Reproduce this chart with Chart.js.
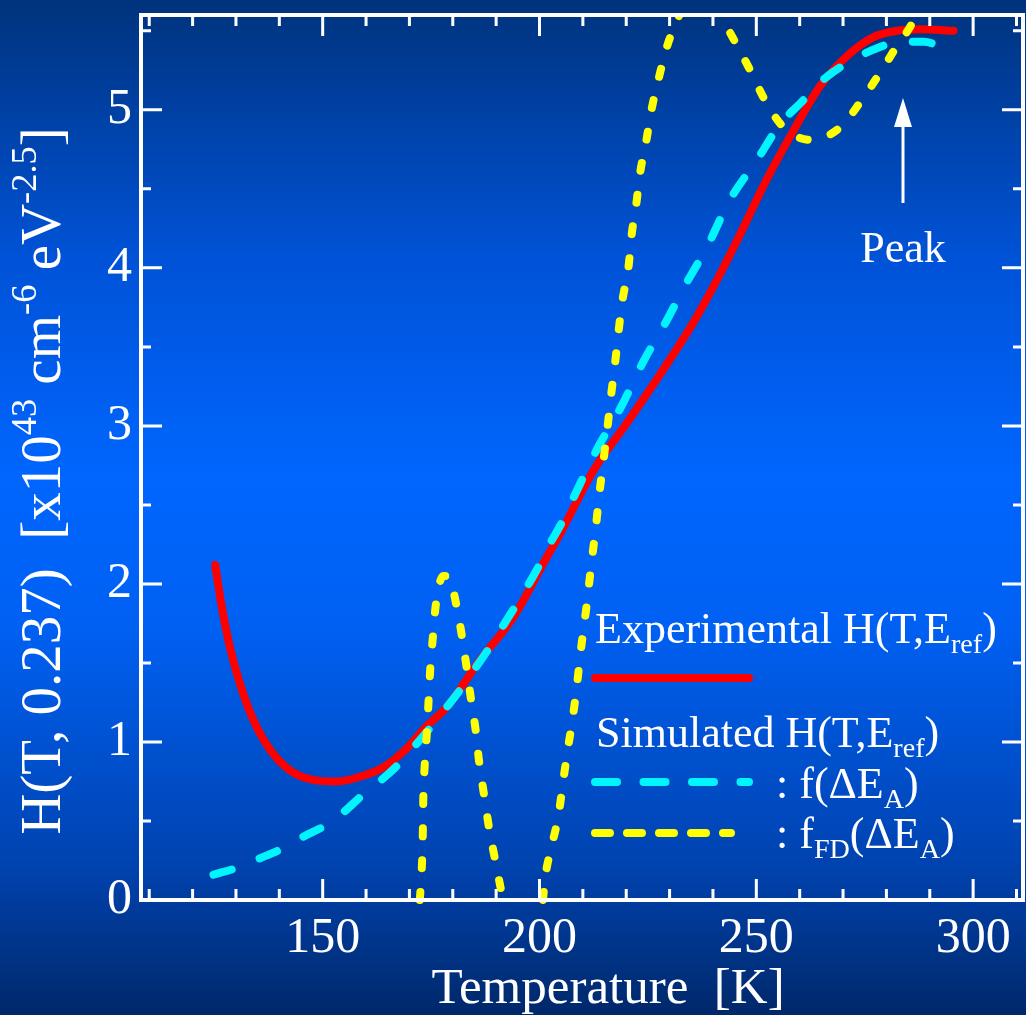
<!DOCTYPE html>
<html><head><meta charset="utf-8">
<script src="https://cdn.jsdelivr.net/npm/chart.js@4.4.0/dist/chart.umd.min.js"></script>
<style>html,body{margin:0;padding:0;background:#0050c8;}canvas{display:block;}</style>
</head><body>
<canvas id="c" width="1026" height="1015"></canvas>
<script>
// ---- data ----
const expT = [125.2,126.7,128.6,130.9,134.0,137.9,142.5,147.8,153.2,158.6,164.0,169.4,174.0,178.6,186.3,194.0,201.7,204.8,212.5,220.2,227.9,235.6,239.7,245.5,252.4,258.6,264.7,270.9,277.0,282.4,288.0,295.5];
const expH = [2.12,1.86,1.60,1.37,1.14,0.95,0.82,0.76,0.75,0.78,0.84,0.96,1.10,1.22,1.52,1.79,2.17,2.32,2.72,3.02,3.33,3.66,3.86,4.17,4.56,4.87,5.15,5.34,5.46,5.50,5.51,5.50];

const simT = [124.8,130.9,135.2,141.0,145.5,150.5,155.0,158.6,164.0,167.5,171.7,174.8,178.6,181.7,185.5,187.8,191.7,194.0,197.1,199.4,202.5,204.8,208.6,213.6,219.0,224.0,229.4,233.6,238.6,243.9,250.1,255.5,260.1,266.3,273.2,277.8,283.2,288.6,294.7];
const simH = [0.16,0.21,0.26,0.33,0.40,0.47,0.56,0.65,0.77,0.86,0.99,1.09,1.22,1.33,1.48,1.57,1.74,1.84,1.98,2.09,2.26,2.37,2.59,2.87,3.13,3.41,3.67,3.89,4.13,4.43,4.68,4.91,5.04,5.21,5.33,5.39,5.43,5.43,5.37];

const fdT = [172.4,172.9,173.1,173.2,173.5,174.0,174.4,174.8,175.4,176.1,177.8,179.0,180.8,182.1,183.2,184.2,185.3,186.1,187.3,188.4,189.8,191.3,191.6,196.0,200.8,201.3,202.8,204.4,205.4,206.5,207.6,208.6,209.4,210.8,212.1,213.0,213.8,214.7,215.6,216.4,217.4,218.2,219.1,220.5,221.3,222.3,223.2,224.6,225.9,227.5,229.4,232.1,235.0,238.0,241.7,245.1,248.6,252.0,256.3,262.5,269.4,274.0,278.2,282.1,286.3,288.0];
const fdH = [0,0.23,0.44,0.64,0.84,1.05,1.25,1.46,1.66,1.87,2.05,2.05,1.87,1.67,1.47,1.27,1.07,0.87,0.65,0.45,0.25,0.04,0,null,0,0.14,0.34,0.54,0.74,0.95,1.14,1.35,1.55,1.85,2.16,2.36,2.57,2.77,2.97,3.17,3.39,3.59,3.79,4.00,4.22,4.40,4.60,4.80,5.01,5.20,5.40,5.59,5.75,5.78,5.60,5.43,5.25,5.06,4.89,4.81,4.89,5.05,5.22,5.39,5.57,5.70];

const xTickValues = [150,200,250,300];
const yTickValues = [0,1,2,3,4,5];
const xMinorValues = [110,120,130,140,160,170,180,190,210,220,230,240,260,270,280,290,310];
const yMinorValues = [0.5,1.5,2.5,3.5,4.5,5.5];

const X_MIN = 108.1, X_MAX = 311.5, Y_MIN = 0, Y_MAX = 5.6;

const serif = '"Liberation Serif", "Times New Roman", serif';

function toXY(xs, ys){ return xs.map((x,i)=>({x:x, y:ys[i]})); }

function drawRich(ctx, parts, x, y, size, align){
  let w = 0;
  const items = parts.map(p=>{
    const s = p[1] ? size*0.64 : size;
    ctx.font = s + 'px ' + serif;
    const m = ctx.measureText(p[0]).width;
    w += m;
    return {t:p[0], mode:p[1], s:s, w:m};
  });
  let cx = align === 'center' ? x - w/2 : x;
  ctx.textAlign = 'left';
  ctx.textBaseline = 'alphabetic';
  items.forEach(it=>{
    ctx.font = it.s + 'px ' + serif;
    const dy = it.mode === 1 ? size*0.22 : (it.mode === 2 ? -size*0.42 : 0);
    ctx.fillText(it.t, cx, y + dy);
    cx += it.w;
  });
}

const decor = {
  id: 'decor',
  beforeDraw(chart){
    const ctx = chart.ctx;
    const g = ctx.createLinearGradient(0,0,0,chart.height);
    g.addColorStop(0, '#00337c');
    g.addColorStop(0.25, '#0052d6');
    g.addColorStop(0.47, '#0066ff');
    g.addColorStop(0.62, '#0060f2');
    g.addColorStop(0.85, '#0043b0');
    g.addColorStop(1, '#00286a');
    ctx.save();
    ctx.fillStyle = g;
    ctx.fillRect(0,0,chart.width,chart.height);
    ctx.restore();
  },
  afterDraw(chart){
    const ctx = chart.ctx;
    const a = chart.chartArea;
    const xs = chart.scales.x, ys = chart.scales.y;
    ctx.save();
    ctx.strokeStyle = '#fff';
    ctx.fillStyle = '#fff';
    ctx.lineWidth = 3;
    ctx.lineCap = 'butt';
    const tick = (v, len, axis) => {
      ctx.beginPath();
      if (axis === 'x') {
        const p = xs.getPixelForValue(v);
        ctx.moveTo(p, a.bottom); ctx.lineTo(p, a.bottom - len);
        ctx.moveTo(p, a.top); ctx.lineTo(p, a.top + len);
      } else {
        const p = ys.getPixelForValue(v);
        ctx.moveTo(a.left, p); ctx.lineTo(a.left + len, p);
        ctx.moveTo(a.right, p); ctx.lineTo(a.right - len, p);
      }
      ctx.stroke();
    };
    xTickValues.forEach(v=>tick(v, 21, 'x'));
    xMinorValues.forEach(v=>tick(v, 11, 'x'));
    yTickValues.forEach(v=>tick(v, 21, 'y'));
    yMinorValues.forEach(v=>tick(v, 10, 'y'));
    ctx.lineWidth = 4;
    ctx.strokeRect(a.left, a.top, a.right - a.left, a.bottom - a.top);

    // axis titles
    drawRich(ctx, [['Temperature  [K]',0]], 608, 1003, 51, 'center');
    ctx.save();
    ctx.translate(60, 481);
    ctx.rotate(-Math.PI/2);
    drawRich(ctx, [['H(T, 0.237)  [x10',0],['43',2],[' cm',0],['-6',2],[' eV',0],['-2.5',2],[']',0]], 0, 0, 57, 'center');
    ctx.restore();

    // legend
    drawRich(ctx, [['Experimental H(T,E',0],['ref',1],[')',0]], 595, 643, 44, 'left');
    drawRich(ctx, [['Simulated H(T,E',0],['ref',1],[')',0]], 596, 747, 44, 'left');
    drawRich(ctx, [[': f(\u0394E',0],['A',1],[')',0]], 776, 798, 44, 'left');
    drawRich(ctx, [[': f',0],['FD',1],['(\u0394E',0],['A',1],[')',0]], 776, 848, 44, 'left');
    ctx.lineCap = 'round';
    ctx.lineWidth = 8;
    ctx.strokeStyle = '#ff0000';
    ctx.setLineDash([]);
    ctx.beginPath(); ctx.moveTo(595, 678); ctx.lineTo(749, 678); ctx.stroke();
    ctx.strokeStyle = '#00f5ff';
    ctx.setLineDash([22, 26.5]);
    ctx.beginPath(); ctx.moveTo(595, 782); ctx.lineTo(749, 782); ctx.stroke();
    ctx.strokeStyle = '#ffff00';
    ctx.setLineDash([15, 17]);
    ctx.beginPath(); ctx.moveTo(595, 833); ctx.lineTo(731, 833); ctx.stroke();
    ctx.setLineDash([]);

    // Peak annotation
    ctx.strokeStyle = '#fff';
    ctx.fillStyle = '#fff';
    ctx.lineWidth = 3;
    ctx.lineCap = 'butt';
    ctx.beginPath(); ctx.moveTo(903, 203); ctx.lineTo(903, 120); ctx.stroke();
    ctx.beginPath(); ctx.moveTo(903, 98); ctx.lineTo(912, 127); ctx.lineTo(894, 127); ctx.closePath(); ctx.fill();
    drawRich(ctx, [['Peak',0]], 903, 262, 44, 'center');
    ctx.restore();
  }
};

new Chart(document.getElementById('c'), {
  type: 'line',
  data: {
    datasets: [
      { label: 'Experimental', order: 3, data: toXY(expT, expH), borderColor: '#ff0000', borderWidth: 8, pointRadius: 0, cubicInterpolationMode: 'monotone', borderCapStyle: 'round', borderJoinStyle: 'round', fill: false },
      { label: 'Simulated f', order: 2, data: toXY(simT, simH), borderColor: '#00f5ff', borderWidth: 8, borderDash: [19, 30], borderCapStyle: 'round', pointRadius: 0, cubicInterpolationMode: 'monotone', fill: false },
      { label: 'Simulated fFD', order: 1, data: toXY(fdT, fdH), borderColor: '#ffff00', borderWidth: 8, borderDash: [8, 24], borderCapStyle: 'round', pointRadius: 0, cubicInterpolationMode: 'monotone', spanGaps: false, fill: false, clip: {left: 0, top: 0, right: 0, bottom: 4} }
    ]
  },
  options: {
    responsive: false,
    animation: false,
    layout: { padding: { left: 0, right: 3, top: 15, bottom: 0 } },
    plugins: { legend: { display: false }, tooltip: { enabled: false } },
    scales: {
      x: {
        type: 'linear', min: X_MIN, max: X_MAX,
        grid: { display: false, drawTicks: false },
        border: { display: false },
        afterBuildTicks: s => { s.ticks = xTickValues.map(v => ({ value: v })); },
        afterFit: s => { s.height = 115; s.paddingLeft = 0; s.paddingRight = 0; },
        ticks: { color: '#fff', padding: 9, maxRotation: 0, font: { family: serif, size: 50 } }
      },
      y: {
        type: 'linear', min: Y_MIN, max: Y_MAX,
        grid: { display: false, drawTicks: false },
        border: { display: false },
        afterBuildTicks: s => { s.ticks = yTickValues.map(v => ({ value: v })); },
        afterFit: s => { s.width = 141; s.paddingTop = 0; s.paddingBottom = 0; },
        ticks: { color: '#fff', padding: 9, font: { family: serif, size: 50 } }
      }
    }
  },
  plugins: [decor]
});
</script>
</body></html>
